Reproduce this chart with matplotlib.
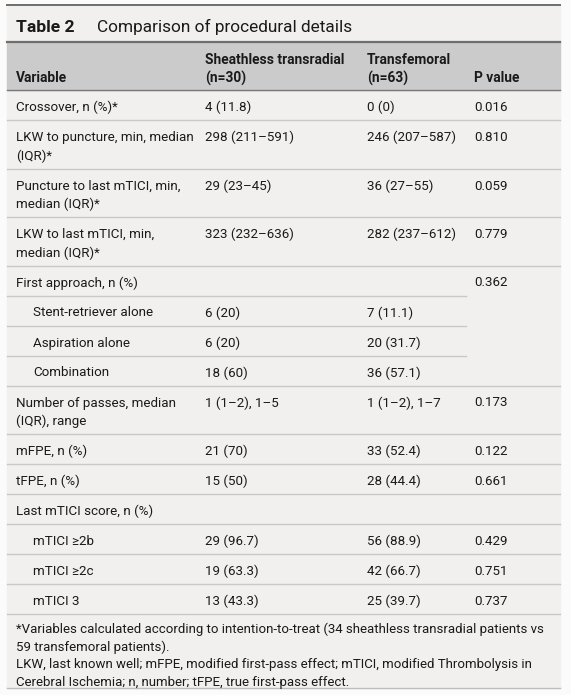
import matplotlib.pyplot as plt
from matplotlib.patches import Rectangle

plt.rcParams['font.family'] = ['Roboto', 'DejaVu Sans']

# Table content
title_num = 'Table 2'
title_text = 'Comparison of procedural details'
headers = ['Variable', 'Sheathless transradial\n(n=30)', 'Transfemoral\n(n=63)', 'P value']

variables = ['Crossover, n (%)*',
             'LKW to puncture, min, median\n(IQR)*',
             'Puncture to last mTICI, min,\nmedian (IQR)*',
             'LKW to last mTICI, min,\nmedian (IQR)*',
             'First approach, n (%)',
             'Stent-retriever alone',
             'Aspiration alone',
             'Combination',
             'Number of passes, median\n(IQR), range',
             'mFPE, n (%)',
             'tFPE, n (%)',
             'Last mTICI score, n (%)',
             'mTICI ≥2b',
             'mTICI ≥2c',
             'mTICI 3']
transradial = ['4 (11.8)', '298 (211–591)', '29 (23–45)', '323 (232–636)', '',
               '6 (20)', '6 (20)', '18 (60)', '1 (1–2), 1–5', '21 (70)', '15 (50)', '',
               '29 (96.7)', '19 (63.3)', '13 (43.3)']
transfemoral = ['0 (0)', '246 (207–587)', '36 (27–55)', '282 (237–612)', '',
                '7 (11.1)', '20 (31.7)', '36 (57.1)', '1 (1–2), 1–7', '33 (52.4)', '28 (44.4)', '',
                '56 (88.9)', '42 (66.7)', '25 (39.7)']
p_values = ['0.016', '0.810', '0.059', '0.779', '0.362', '', '', '', '0.173',
            '0.122', '0.661', '', '0.429', '0.751', '0.737']
subrows = [5, 6, 7, 12, 13, 14]   # indented rows
merged_p = [4, 5, 6]              # rows whose bottom line stops before P value column

footnotes = ['*Variables calculated according to intention-to-treat (34 sheathless transradial patients vs',
             '59 transfemoral patients).',
             'LKW, last known well; mFPE, modified first-pass effect; mTICI, modified Thrombolysis in',
             'Cerebral Ischemia; n, number; tFPE, true first-pass effect.']

# Layout (pixels)
W, H = 571, 695
left, right = 7, 560
col_x = [16, 205, 367, 474]
indent = 17
bg = '#f1f0ee'
header_bg = '#cbcbcb'
dark = '#6e6e6e'
grid = '#c8c8c8'
txt = '#1a1a1a'
fs = 9.6

fig = plt.figure(figsize=(W / 100, H / 100), dpi=100)
ax = fig.add_axes([0, 0, 1, 1])
ax.set_xlim(0, W)
ax.set_ylim(H, 0)
ax.axis('off')

# backgrounds
ax.add_patch(Rectangle((left, 5), right - left, 688 - 5, color=bg, zorder=0))
ax.add_patch(Rectangle((left, 42), right - left, 48, color=header_bg, zorder=1))

# title
ax.plot([left, right], [5, 5], color=dark, lw=1.4, zorder=3)
ax.text(16, 27, title_num, fontsize=12.6, fontweight='bold', va='center', color=txt)
ax.text(97, 27, title_text, fontsize=12.4, va='center', color=txt)
ax.plot([left, right], [42, 42], color=dark, lw=1.6, zorder=3)

# header
for i, h in enumerate(headers):
    lines = h.split('\n')
    ys = [78] if len(lines) == 1 else [60, 78]
    for ln, y in zip(lines, ys):
        ax.text(col_x[i], y, ln, fontsize=9.9, fontweight='bold', va='center', color=txt)
ax.plot([left, right], [90, 90], color='#7a7a7a', lw=1.0, zorder=3)

# body rows
y = 90
for r in range(len(variables)):
    nlines = variables[r].count('\n') + 1
    h = 30 if nlines == 1 else 48.5
    x0 = col_x[0] + (indent if r in subrows else 0)
    for k, ln in enumerate(variables[r].split('\n')):
        ax.text(x0, y + 17.5 + 18.5 * k, ln, fontsize=fs, va='center', color=txt)
    for c, vals in zip(col_x[1:], [transradial, transfemoral, p_values]):
        if vals[r]:
            ax.text(c, y + 17.5, vals[r], fontsize=fs, va='center', color=txt)
    y += h
    xr = 466 if r in merged_p else right
    ax.plot([left, xr], [y, y], color=grid, lw=1.0, zorder=2)

# footnotes
for k, ln in enumerate(footnotes):
    ax.text(16, y + 15.5 + 17.7 * k, ln, fontsize=9.5, va='center', color=txt)
ax.plot([left, right], [688, 688], color='#bdbdbd', lw=1.0, zorder=2)

plt.savefig('out.png', dpi=100, facecolor='#fbfbfb')
